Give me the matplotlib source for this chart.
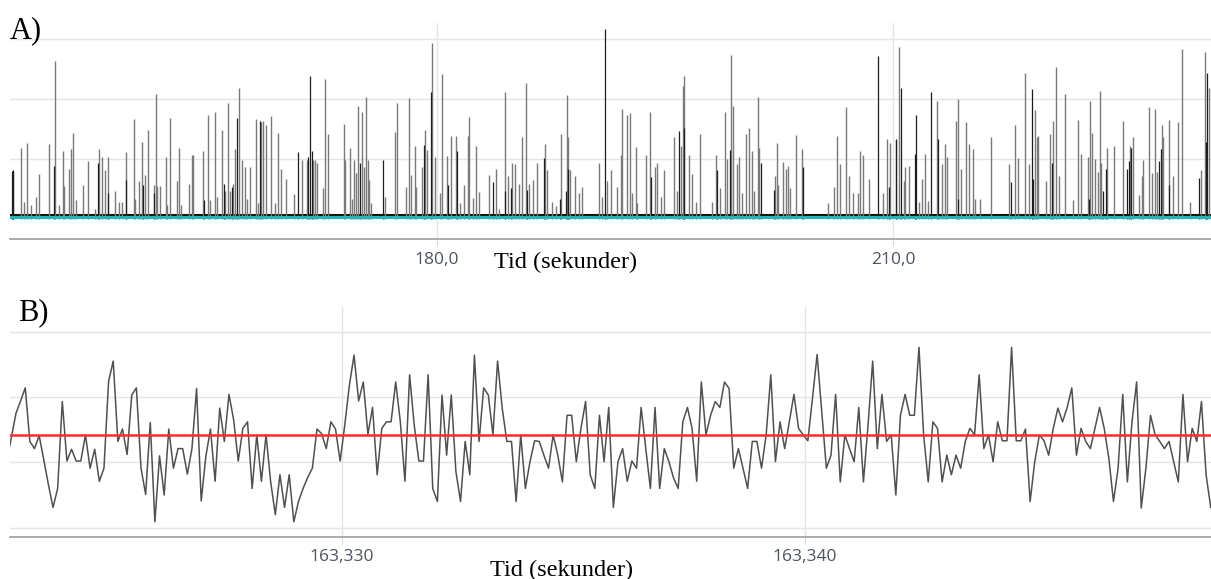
import matplotlib
matplotlib.use('Agg')
import matplotlib.pyplot as plt
from matplotlib.ticker import FuncFormatter
import numpy as np

# ---- panel A: spike train (time in s, peak height) ----
spike_t = [152.61, 152.83, 153.00, 153.29, 153.60, 153.82, 154.45, 154.89, 155.11, 155.37,
           155.48, 155.77, 155.94, 156.05, 156.27, 156.69, 157.06, 157.52, 157.76, 157.94,
           158.16, 158.38, 158.84, 159.06, 159.30, 159.56, 160.09, 160.15, 160.37, 160.57,
           160.77, 160.96, 161.36, 161.49, 161.56, 161.75, 162.15, 162.26, 162.41, 162.89,
           163.03, 163.14, 163.66, 163.90, 163.97, 164.61, 164.93, 165.07, 165.39, 165.55,
           165.86, 166.07, 166.27, 166.38, 166.60, 166.73, 166.95, 167.17, 167.37, 167.48,
           167.72, 168.09, 168.20, 168.42, 168.53, 168.73, 169.06, 169.36, 169.54, 169.74,
           170.04, 170.61, 171.14, 171.43, 171.86, 171.97, 172.13, 172.50, 172.65, 172.85,
           173.86, 173.97, 174.28, 174.41, 174.54, 174.67, 174.80, 175.07, 175.18, 175.31,
           175.44, 175.55, 175.64, 176.58, 177.24, 177.35,
           177.96, 178.14, 178.27, 178.53, 178.60, 179.00, 179.21, 179.32, 179.65, 179.87,
           180.20, 180.36, 180.68, 180.90, 181.25, 181.52, 181.76, 182.02, 182.09, 182.39,
           182.57, 182.77, 183.40, 183.89, 184.06, 184.48, 184.65, 184.96, 185.14, 185.40,
           185.62, 185.84, 186.06, 186.30, 186.56, 187.09, 187.22, 187.55, 187.81, 188.16,
           188.54, 188.64, 188.78, 189.08, 189.32, 189.52, 190.68, 190.88, 191.21, 191.47,
           191.87, 192.11, 192.20, 192.48, 192.70, 192.86, 193.07, 193.18, 193.73, 194.00,
           194.37, 194.50, 194.74, 194.96, 195.60, 195.82, 196.04, 196.17, 196.28, 196.56,
           196.78, 197.02, 197.31, 198.07, 198.34, 198.62, 198.95, 199.08, 199.35, 199.48,
           199.72, 199.87, 200.05, 200.33, 200.51, 200.73, 200.86, 201.12, 201.21, 202.22,
           202.37, 202.46, 202.79, 202.97, 203.10, 203.23, 203.60,
           203.99, 205.72, 206.09, 206.29, 206.51, 206.91, 207.13, 207.34, 207.72, 207.83,
           208.02, 208.42, 209.32, 209.60, 209.82, 210.22, 210.42, 210.72, 210.81, 211.07,
           211.73, 211.93, 212.08, 212.28, 212.89, 213.22, 213.42, 213.55, 214.12, 214.27,
           214.47, 214.80, 215.02, 215.28, 215.42, 215.74, 216.42, 217.61, 218.05, 218.20,
           218.70, 218.97, 219.34, 219.45, 219.54, 220.06, 220.33, 220.50, 220.70, 220.92,
           221.29, 221.82, 222.15, 222.34, 222.81, 222.96, 223.09, 223.31, 223.46, 223.59,
           223.70, 224.06, 224.56, 225.15, 225.61, 225.81, 226.20, 226.38, 226.47, 226.86,
           227.06, 227.26, 227.39, 227.67, 227.78, 228.13, 228.44, 228.73, 228.99, 229.54,
           230.24, 230.50, 230.79]
spike_h = [1.19, 0.28, 1.27, 0.23, 0.36, 0.75, 1.25, 2.64, 0.24, 1.13,
           0.55, 0.84, 1.16, 1.43, 0.32, 0.56, 0.97, 0.17, 1.16, 1.03,
           0.81, 1.04, 0.47, 0.28, 0.28, 1.11, 1.67, 0.34, 0.63, 1.28,
           0.73, 1.48, 0.57, 2.08, 0.55, 0.55, 1.04, 0.24, 1.68, 0.64,
           1.19, 0.23, 0.58, 1.07, 1.07, 1.14, 1.74, 0.32, 1.78, 0.36,
           1.49, 0.46, 1.94, 0.47, 0.59, 1.16, 2.19, 0.99, 0.87, 0.33,
           0.87, 1.67, 0.27, 1.61, 1.64, 1.57, 1.71, 0.26, 1.44, 0.83,
           0.66, 0.42, 0.99, 0.99, 0.99, 0.98, 0.94, 0.51, 2.34, 1.41,
           1.58, 0.99, 1.19, 0.34, 0.99, 0.77, 1.89, 1.78, 0.87, 2.04,
           0.98, 0.65, 0.27, 0.37, 1.45, 1.94,
           0.54, 2.01, 0.73, 1.22, 0.54, 0.86, 1.48, 1.15, 2.94, 1.04,
           0.43, 2.41, 1.05, 1.39, 1.39, 0.27, 0.57, 1.39, 1.70, 0.35,
           1.22, 0.45, 0.74, 0.83, 0.16, 2.12, 0.71, 0.94, 0.91, 0.59,
           1.36, 2.26, 0.59, 0.65, 0.93, 1.25, 0.81, 0.29, 0.22, 1.42,
           2.07, 1.36, 0.82, 0.71, 0.43, 0.54, 0.93, 0.36, 0.63, 0.82,
           0.54, 1.06, 1.83, 1.74, 1.77, 0.43, 1.20, 0.27, 1.07, 1.79,
           0.87, 0.93, 0.37, 0.81, 1.37, 0.47, 1.22, 2.22, 2.38, 1.07,
           0.75, 0.29, 1.42, 0.29, 1.07, 0.51, 1.78, 1.00, 2.74, 1.89,
           0.92, 1.03, 0.44, 1.41, 1.51, 1.13, 0.46, 2.04, 1.18, 0.72,
           1.26, 0.57, 0.95, 0.84, 0.89, 0.51, 1.40,
           1.17, 0.26, 0.54, 1.38, 0.91, 1.86, 0.72, 0.43, 0.44, 1.13,
           1.06, 0.67, 0.44, 1.34, 1.26, 1.32, 2.87, 0.64, 0.86, 0.88,
           0.29, 0.67, 1.09, 0.30, 1.96, 0.91, 1.25, 1.04, 1.64, 2.00,
           0.83, 1.62, 1.25, 1.17, 0.34, 0.33, 1.36, 0.91, 1.57, 1.02,
           2.43, 0.91, 1.81, 1.37, 1.39, 0.63, 1.41, 1.63, 2.53, 0.72,
           2.08, 0.32, 1.65, 1.08, 1.04, 1.96, 1.44, 1.00, 0.79, 2.14,
           0.94, 1.19, 1.22, 1.64, 1.21, 1.37, 0.40, 0.72, 0.98, 1.86,
           0.77, 1.84, 0.79, 1.56, 1.36, 1.65, 0.71, 1.62, 2.84, 0.29,
           0.82, 2.78, 2.19]

# darker (overlapping) spikes
dark_t = [152.04, 152.08, 152.13, 154.82, 157.70, 158.33, 159.54, 160.68, 161.40, 164.67,
          165.99, 166.54, 166.86, 168.33, 170.88, 171.54, 171.67, 171.75, 174.93, 176.43,
          179.15, 179.61, 180.75, 181.30, 183.71, 184.50, 184.87, 185.93, 187.07, 188.10,
          188.49, 188.60, 191.06, 194.08, 195.95, 196.23, 198.40, 199.26, 201.30, 202.18,
          204.10, 209.03, 209.76, 210.20, 210.52, 211.47, 211.53, 212.52, 212.94, 214.30,
          217.76, 219.14, 219.23, 220.44, 222.87, 223.84, 224.01, 225.42, 225.50, 225.66,
          227.50, 227.61, 228.13, 230.13, 230.61, 230.68]
dark_h = [0.80, 0.82, 0.78, 0.89, 0.93, 0.44, 0.65, 0.57, 0.44, 0.32,
          0.58, 0.54, 1.68, 1.64, 1.12, 1.04, 2.38, 1.14, 0.94, 0.98,
          1.23, 2.12, 0.57, 1.14, 0.62, 0.47, 0.51, 0.48, 1.01, 0.34,
          0.47, 0.83, 3.17, 0.70, 1.46, 1.52, 0.81, 1.15, 0.94, 0.48,
          0.86, 2.72, 0.54, 1.34, 2.18, 1.08, 1.73, 2.11, 1.34, 0.34,
          0.61, 2.16, 0.67, 0.93, 0.34, 0.47, 0.84, 0.84, 0.96, 1.18,
          0.96, 1.17, 0.57, 0.69, 1.29, 2.43]

threshold_a = 0.033
noise_level_a = 0.075

# ---- panel B: sampled signal, 0.1 ms per sample ----
b_start = 163.322765
b_dt = 0.0001
b_vals = [1.02, 1.38, 1.75, 1.94, 2.14, 1.32, 1.21, 1.41, 1.04, 0.66,
          0.31, 0.60, 1.93, 1.02, 1.20, 1.02, 1.02, 1.42, 0.91, 1.20,
          0.71, 0.91, 2.24, 2.55, 1.32, 1.51, 1.12, 2.03, 2.14, 0.91,
          0.51, 1.61, 0.09, 1.10, 0.50, 1.51, 0.91, 1.21, 1.21, 0.82,
          1.21, 2.13, 0.41, 1.09, 1.51, 0.71, 1.83, 1.32, 2.04, 1.65,
          1.02, 1.52, 1.62, 0.60, 1.42, 0.71, 1.42, 0.70, 0.20, 0.81,
          0.31, 0.81, 0.09, 0.40, 0.60, 0.77, 0.91, 1.51, 1.44, 1.21,
          1.62, 1.51, 1.02, 1.57, 2.18, 2.64, 1.94, 2.23, 1.43, 1.84,
          0.81, 1.52, 1.62, 1.62, 2.23, 1.62, 0.71, 2.34, 1.57, 1.02,
          1.02, 2.34, 0.60, 0.40, 2.03, 1.11, 2.03, 0.86, 0.40, 1.32,
          0.81, 2.64, 1.32, 2.14, 2.03, 1.42, 2.55, 1.83, 1.32, 1.32,
          0.40, 1.42, 0.60, 1.01, 1.33, 1.32, 1.11, 0.91, 1.42, 1.11,
          0.70, 1.72, 1.72, 1.01, 1.52, 1.93, 0.81, 0.60, 1.72, 1.01,
          1.84, 0.31, 1.01, 1.21, 0.71, 1.02, 0.91, 1.84, 1.21, 0.60,
          1.84, 0.60, 1.21, 1.01, 0.76, 0.60, 1.62, 1.84, 1.52, 0.71,
          2.23, 1.42, 1.72, 1.93, 1.84, 2.23, 2.13, 0.91, 1.21, 0.91,
          0.60, 1.32, 1.32, 0.91, 1.42, 2.34, 1.01, 1.62, 1.21, 1.62,
          2.04, 1.52, 1.42, 1.33, 1.98, 2.65, 1.78, 0.91, 1.11, 2.04,
          0.70, 1.42, 1.21, 1.01, 1.84, 0.70, 1.57, 2.55, 1.21, 2.04,
          1.32, 1.42, 0.50, 1.72, 2.04, 1.72, 1.72, 2.76, 1.42, 0.70,
          1.62, 1.52, 0.70, 1.11, 0.81, 1.11, 0.91, 1.32, 1.52, 1.42,
          2.34, 1.21, 1.42, 1.01, 1.62, 1.33, 1.33, 2.76, 1.33, 1.33,
          1.51, 0.40, 1.01, 1.42, 1.33, 1.11, 1.52, 1.83, 1.62, 1.84,
          2.14, 1.11, 1.52, 1.32, 1.21, 1.52, 1.84, 1.52, 1.06, 0.40,
          0.91, 2.04, 0.70, 1.62, 2.23, 0.30, 0.91, 1.72, 1.42, 1.32,
          1.21, 1.32, 1.01, 0.70, 2.04, 1.01, 1.52, 1.32, 1.93, 0.81,
          0.31]
b_mean = 1.42

serif = 'Liberation Serif'
tickfont = 'Open Sans'

fig = plt.figure(figsize=(12.11, 5.79), dpi=100)
axA = fig.add_axes([0.0083, 0.5872, 0.9917, 0.3731])
axB = fig.add_axes([0.0083, 0.0731, 0.9917, 0.3967])

for ax in (axA, axB):
    for s in ('top', 'left', 'right'):
        ax.spines[s].set_visible(False)
    ax.spines['bottom'].set_color('#a6a6a6')
    ax.spines['bottom'].set_linewidth(1.3)
    ax.grid(True, color='#e4e4e4', linewidth=1.0)
    ax.set_axisbelow(True)
    ax.tick_params(axis='y', left=False, labelleft=False)
    ax.tick_params(axis='x', length=5, color='#d8d8d8', labelcolor='#4e5560',
                   labelsize=12.5, pad=4)

# panel A
axA.axhline(noise_level_a, color='#111111', linewidth=2.2, zorder=2)
axA.vlines(spike_t, 0, spike_h, color='#7a7a7a', linewidth=1.0, zorder=3)
axA.vlines(dark_t, 0, dark_h, color='#1e1e1e', linewidth=0.9, zorder=4)
axA.axhline(threshold_a, color='#1fb8b8', linewidth=2.2, zorder=5)
axA.set_xlim(151.91, 230.92)
axA.set_ylim(-0.333, 3.267)
axA.set_yticks([1, 2, 3])
axA.set_xticks([180, 210])
axA.xaxis.set_major_formatter(FuncFormatter(lambda x, p: f'{x:.1f}'.replace('.', ',')))

# panel B
b_t = b_start + b_dt * np.arange(len(b_vals))
axB.plot(b_t, b_vals, color='#505050', linewidth=1.1, zorder=3)
axB.axhline(b_mean, color='#ff2b2b', linewidth=1.8, zorder=4)
axB.set_xlim(b_start + 0.72 * b_dt, b_start + 260.06 * b_dt)
axB.set_ylim(-0.138, 3.378)
axB.set_yticks([0, 1, 2, 3])
axB.set_xticks([163.330, 163.340])
axB.xaxis.set_major_formatter(FuncFormatter(lambda x, p: f'{x:.3f}'.replace('.', ',')))

for ax in (axA, axB):
    for lab in ax.get_xticklabels():
        lab.set_fontfamily(tickfont)

fig.text(10 / 1211, 1 - 38 / 579, 'A)', family=serif, fontsize=22, color='black')
fig.text(18 / 1211, 1 - 320 / 579, 'B)', family=serif, fontsize=22, color='black')
fig.text(566 / 1211, 1 - 268 / 579, 'Tid (sekunder)', family=serif, fontsize=17.5,
         ha='center', color='black')
fig.text(562 / 1211, 1 - 576 / 579, 'Tid (sekunder)', family=serif, fontsize=17.5,
         ha='center', color='black')

fig.savefig('out.png', dpi=100)
